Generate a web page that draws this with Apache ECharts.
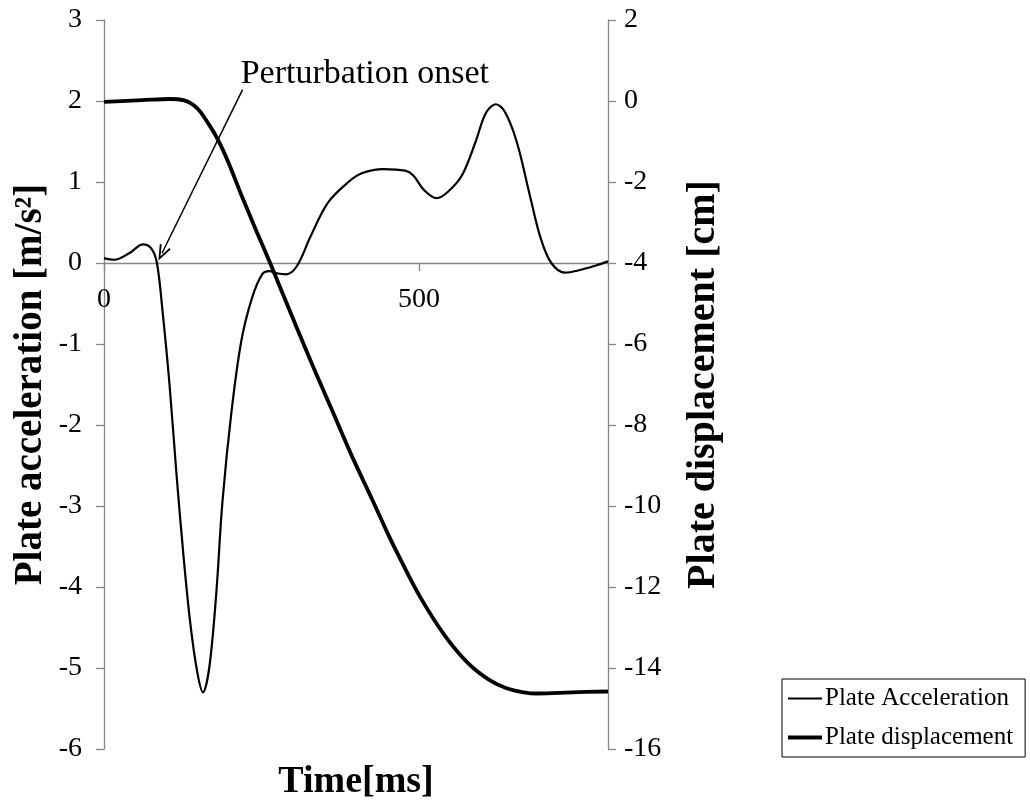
<!DOCTYPE html>
<html>
<head>
<meta charset="utf-8">
<script src="https://cdn.jsdelivr.net/npm/echarts@6/dist/echarts.min.js"></script>
<style>
html,body{margin:0;padding:0;background:#fff;}
#chart{width:1030px;height:803px;}
</style>
</head>
<body>
<div id="chart"></div>
<script>
// Plate acceleration (m/s^2) vs time (ms)
const accT = [0, 16, 40, 62, 75, 84, 93, 104, 115, 126, 137, 148, 157, 167, 178, 188, 202, 218, 235, 251, 262, 276, 289, 306, 328, 355, 388, 410, 443, 478, 491, 508, 528, 546, 568, 590, 606, 622, 636, 655, 677, 693, 710, 732, 754, 781, 800];
const accV = [0.06, 0.04, 0.12, 0.23, 0.18, 0.0, -0.6, -1.5, -2.6, -3.6, -4.45, -5.05, -5.3, -5.0, -4.1, -2.95, -1.86, -0.96, -0.43, -0.14, -0.1, -0.13, -0.14, -0.04, 0.33, 0.74, 1.0, 1.11, 1.16, 1.14, 1.08, 0.9, 0.8, 0.88, 1.08, 1.5, 1.85, 1.96, 1.87, 1.5, 0.8, 0.31, 0.0, -0.12, -0.09, -0.03, 0.02];
// Plate displacement (cm) vs time (ms)
const dispT = [0, 60, 104, 126, 148, 167, 181, 197, 218, 240, 265, 306, 333, 361, 393, 426, 451, 470, 502, 541, 579, 612, 639, 666, 688, 743, 800];
const dispV = [-0.02, 0.02, 0.05, 0.02, -0.18, -0.59, -0.96, -1.5, -2.32, -3.14, -4.05, -5.6, -6.6, -7.6, -8.75, -9.85, -10.7, -11.3, -12.25, -13.2, -13.9, -14.3, -14.5, -14.6, -14.63, -14.6, -14.58];
const xTicks = [0, 500];
const accRange = [-6, 3];
const dispRange = [-16, 2];
const annotationText = 'Perturbation onset';
const annotationFrom = [220, 2.14];
const annotationTo = [92, 0.12];
const annotationLabelAt = [217, 2.33];

const FONT = "'Liberation Serif', 'Times New Roman', serif";
const AXIS_GRAY = '#868686';
const GRID = { left: 104, right: 422, top: 20, bottom: 54 };
const plotHeight = 803 - GRID.top - GRID.bottom;
// shift the time axis (line, ticks and labels) up to where acceleration = 0
const zeroOffset = -plotHeight * (0 - accRange[0]) / (accRange[1] - accRange[0]);

const accData = accT.map((t, i) => [t, accV[i]]);
const dispData = dispT.map((t, i) => [t, dispV[i]]);

const chart = echarts.init(document.getElementById('chart'));
chart.setOption({
  animation: false,
  backgroundColor: '#fff',
  textStyle: { fontFamily: FONT, color: '#000' },
  grid: Object.assign({ containLabel: false }, GRID),
  legend: {
    orient: 'vertical',
    left: 782, top: 679,
    padding: [7, 12, 7, 6],
    borderColor: '#000', borderWidth: 1,
    itemWidth: 34, itemHeight: 14, itemGap: 14,
    symbolKeepAspect: true,
    textStyle: { fontFamily: FONT, fontSize: 25, color: '#000', padding: [0, 0, 0, -2] },
    data: [
      { name: 'Plate Acceleration', icon: 'path://M0,0 H34 V2.2 H0 Z' },
      { name: 'Plate displacement', icon: 'path://M0,0 H34 V4 H0 Z' }
    ]
  },
  xAxis: {
    type: 'value', min: 0, max: 800, interval: 500,
    offset: zeroOffset,
    axisLine: { show: true, onZero: false, lineStyle: { color: AXIS_GRAY, width: 1.3 } },
    axisTick: { show: true, length: 8, lineStyle: { color: AXIS_GRAY, width: 1.3 } },
    axisLabel: {
      fontFamily: FONT, fontSize: 28, color: '#000', margin: 23, showMaxLabel: false,
      formatter: v => (xTicks.indexOf(v) >= 0 ? String(v) : '')
    },
    splitLine: { show: false }
  },
  yAxis: [
    {
      type: 'value', min: accRange[0], max: accRange[1], interval: 1, position: 'left',
      axisLine: { show: true, onZero: false, lineStyle: { color: AXIS_GRAY, width: 1.3 } },
      axisTick: { show: true, length: 8, lineStyle: { color: AXIS_GRAY, width: 1.3 } },
      axisLabel: { fontFamily: FONT, fontSize: 28, color: '#000', margin: 22 },
      splitLine: { show: false },
      name: 'Plate acceleration [m/s²]', nameLocation: 'middle', nameRotate: 90, nameGap: 54,
      nameTextStyle: { fontFamily: FONT, fontSize: 39, fontWeight: 'bold', color: '#000' }
    },
    {
      type: 'value', min: dispRange[0], max: dispRange[1], interval: 2, position: 'right',
      axisLine: { show: true, onZero: false, lineStyle: { color: AXIS_GRAY, width: 1.3 } },
      axisTick: { show: true, length: 8, lineStyle: { color: AXIS_GRAY, width: 1.3 } },
      axisLabel: { fontFamily: FONT, fontSize: 28, color: '#000', margin: 16 },
      splitLine: { show: false },
      name: 'Plate displacement [cm]', nameLocation: 'middle', nameRotate: 90, nameGap: 76,
      nameTextStyle: { fontFamily: FONT, fontSize: 40, fontWeight: 'bold', color: '#000' }
    }
  ],
  graphic: [{
    type: 'text', x: 356, y: 782,
    style: {
      text: 'Time[ms]', font: "bold 38px 'Liberation Serif', 'Times New Roman', serif",
      fill: '#000', align: 'center', verticalAlign: 'middle'
    }
  }],
  series: [
    {
      name: 'Plate Acceleration', type: 'line', yAxisIndex: 0, smooth: 0.35,
      symbol: 'none', showSymbol: false,
      lineStyle: { color: '#000', width: 2.2 }, itemStyle: { color: '#000' },
      data: accData,
      markLine: {
        silent: true, animation: false,
        symbol: ['none', 'path://M0,0 L-5,13 L-3.6,13.6 L0,4 L3.6,13.6 L5,13 Z'],
        symbolSize: [12, 16],
        lineStyle: { color: '#000', width: 1.5, type: 'solid' },
        label: { show: false },
        data: [[{ coord: annotationFrom }, { coord: annotationTo }]]
      },
      markPoint: {
        silent: true, symbol: 'circle', symbolSize: 0,
        label: {
          show: true, position: 'right', distance: 0,
          fontFamily: FONT, fontSize: 34, color: '#000',
          formatter: annotationText
        },
        data: [{ coord: annotationLabelAt }]
      }
    },
    {
      name: 'Plate displacement', type: 'line', yAxisIndex: 1, smooth: 0.35,
      symbol: 'none', showSymbol: false,
      lineStyle: { color: '#000', width: 3.8 }, itemStyle: { color: '#000' },
      data: dispData
    }
  ]
});
</script>
</body>
</html>
